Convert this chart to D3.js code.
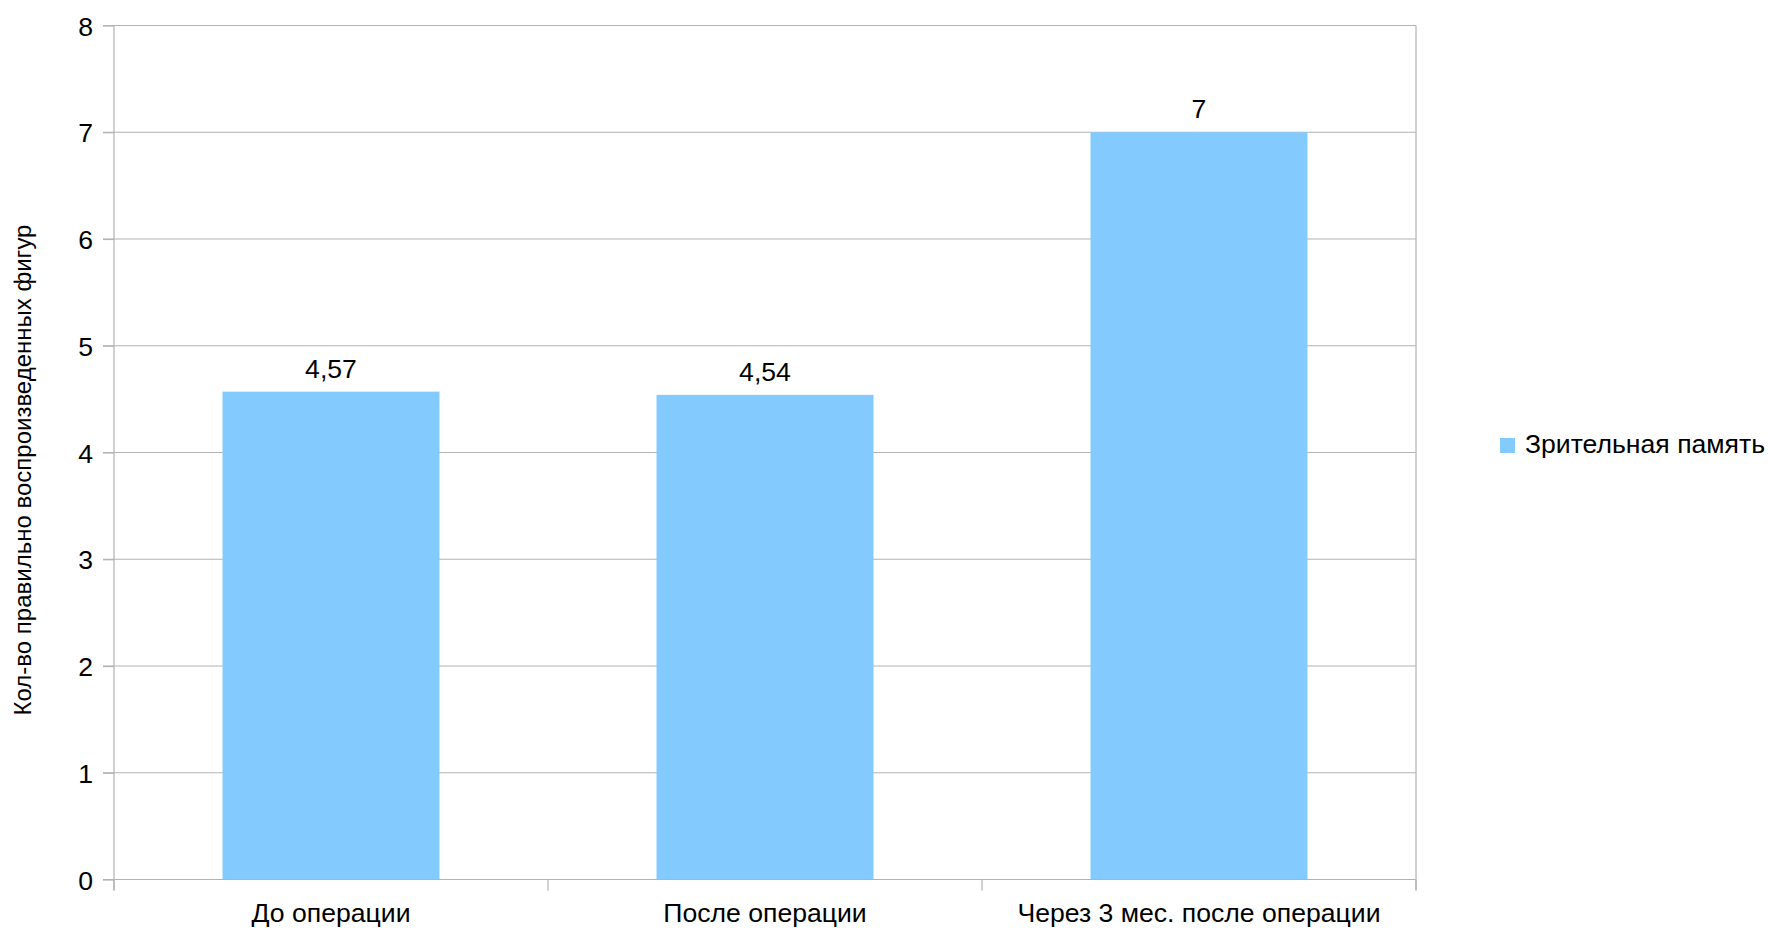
<!DOCTYPE html>
<html><head><meta charset="utf-8">
<script src="https://cdn.jsdelivr.net/npm/d3@7"></script>
<style>body{margin:0;background:#fff;} svg{display:block;}</style>
</head><body>
<script>
const categories = ["До операции", "После операции", "Через 3 мес. после операции"];
const values = [4.57, 4.54, 7];
const valueLabels = ["4,57", "4,54", "7"];
const yTicks = [0, 1, 2, 3, 4, 5, 6, 7, 8];
const seriesName = "Зрительная память";
const yTitle = "Кол-во правильно воспроизведенных фигур";

const W = 1768, H = 930;
const m = {left: 114, right: 1416, top: 25.5, bottom: 879.5};
const font = "'Liberation Sans', Arial, sans-serif";
const fs = 26.6;
const grid = "#b3b3b3", barColor = "#83caff";

const svg = d3.select("body").append("svg").attr("width", W).attr("height", H);

const x = d3.scaleBand().domain(categories).range([m.left, m.right]).paddingInner(0).paddingOuter(0);
const y = d3.scaleLinear().domain([0, 8]).range([m.bottom, m.top]);

// gridlines
svg.append("g").selectAll("line").data(yTicks).join("line")
  .attr("x1", m.left - 11).attr("x2", m.right)
  .attr("y1", d => y(d)).attr("y2", d => y(d))
  .attr("stroke", grid).attr("stroke-width", 1.2);

// right border
svg.append("line").attr("x1", m.right).attr("x2", m.right)
  .attr("y1", m.top).attr("y2", m.bottom + 11).attr("stroke", grid).attr("stroke-width", 1.2);

// bars
const bw = x.bandwidth() * 0.5;
svg.append("g").selectAll("rect").data(values).join("rect")
  .attr("x", (d, i) => x(categories[i]) + x.bandwidth() / 2 - bw / 2)
  .attr("width", bw)
  .attr("y", d => y(d)).attr("height", d => y(0) - y(d))
  .attr("fill", barColor);

// y axis
const yAxis = d3.axisLeft(y).tickValues(yTicks).tickSize(11).tickPadding(10).tickFormat(d3.format("d"));
const ya = svg.append("g").attr("transform", `translate(${m.left},0)`).call(yAxis);
ya.select(".domain").remove();
ya.selectAll(".tick line").attr("stroke", grid).attr("stroke-width", 1.2);
ya.selectAll(".tick text").attr("font-family", font).attr("font-size", fs).attr("fill", "#000").attr("dy", "0.36em");
svg.append("line").attr("x1", m.left).attr("x2", m.left)
  .attr("y1", m.top).attr("y2", m.bottom + 11).attr("stroke", grid).attr("stroke-width", 1.2);

// x axis boundary ticks
const bounds = categories.map(c => x(c)).concat([m.right]);
svg.append("g").selectAll("line").data(bounds).join("line")
  .attr("x1", d => d).attr("x2", d => d)
  .attr("y1", m.bottom).attr("y2", m.bottom + 11)
  .attr("stroke", grid).attr("stroke-width", 1.2);
svg.append("line").attr("x1", m.left).attr("x2", m.right)
  .attr("y1", y(0)).attr("y2", y(0)).attr("stroke", grid).attr("stroke-width", 1.2);

// category labels
svg.append("g").selectAll("text").data(categories).join("text")
  .attr("x", d => x(d) + x.bandwidth() / 2).attr("y", 922)
  .attr("text-anchor", "middle").attr("font-family", font).attr("font-size", fs).attr("fill", "#000")
  .text(d => d);

// value labels
svg.append("g").selectAll("text").data(values).join("text")
  .attr("x", (d, i) => x(categories[i]) + x.bandwidth() / 2).attr("y", d => y(d) - 14)
  .attr("text-anchor", "middle").attr("font-family", font).attr("font-size", fs).attr("fill", "#000")
  .text((d, i) => valueLabels[i]);

// y title
svg.append("text").attr("transform", "translate(31,470) rotate(-90)")
  .attr("text-anchor", "middle").attr("font-family", font).attr("font-size", 24).attr("fill", "#000")
  .text(yTitle);

// legend
svg.append("rect").attr("x", 1500).attr("y", 438).attr("width", 15).attr("height", 15).attr("fill", barColor);
svg.append("text").attr("x", 1525).attr("y", 453).attr("font-family", font).attr("font-size", fs).attr("fill", "#000").text(seriesName);
</script>
</body></html>
